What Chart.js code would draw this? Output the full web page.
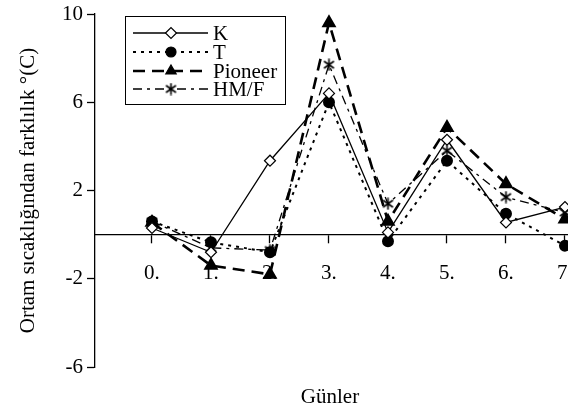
<!DOCTYPE html>
<html>
<head>
<meta charset="utf-8">
<script src="https://cdn.jsdelivr.net/npm/chart.js@4.4.0/dist/chart.umd.min.js"></script>
<style>
  html, body { margin: 0; padding: 0; background: #fff; overflow: hidden; }
  #wrap { width: 568px; height: 411px; overflow: hidden; }
</style>
</head>
<body>
<div id="wrap"><canvas id="tempChart" width="568" height="411"></canvas></div>
<script>
// days (x positions) and their labels
const days = [0, 1, 2, 3, 4, 5, 6, 7];
const dayLabels = ['0.', '1.', '2.', '3.', '4.', '5.', '6.', '7.'];
const yTicks = [-6, -2, 2, 6, 10];

// difference from ambient temperature
const kVals       = [0.3, -0.8, 3.35, 6.4, 0.1, 4.3, 0.55, 1.25];
const tVals       = [0.6, -0.35, -0.8, 6.0, -0.3, 3.35, 0.95, -0.5];
const pioneerVals = [0.55, -1.4, -1.8, 9.6, 0.6, 4.85, 2.3, 0.7];
const hmfVals     = [0.6, -0.6, -0.7, 7.7, 1.4, 3.8, 1.7, 1.0];

const FONT = 'Liberation Serif, Times New Roman, serif';

// six-armed asterisk marker
function makeAsterisk() {
    const c = document.createElement('canvas');
    c.width = 13; c.height = 13;
    const g = c.getContext('2d');
    g.strokeStyle = '#000';
    g.lineWidth = 1.6;
    g.beginPath();
    g.moveTo(6.5, 0.5); g.lineTo(6.5, 12.5);
    g.moveTo(1.5, 3); g.lineTo(11.5, 10);
    g.moveTo(11.5, 3); g.lineTo(1.5, 10);
    g.stroke();
    return c;
}
const asterisk = makeAsterisk();

function toPoints(vals) {
    return days.map((d, i) => ({ x: d, y: vals[i] }));
}

// box legend drawn like the original (line + marker + name), plus x title
const boxLegend = {
    id: 'boxLegend',
    afterDraw(chart) {
        const ctx = chart.ctx;
        ctx.save();
        ctx.strokeStyle = '#000';
        ctx.lineWidth = 1;
        ctx.strokeRect(125.5, 16.5, 160, 88);
        const rowY = [33, 52, 71, 89];
        chart.data.datasets.forEach((ds, i) => {
            const y = rowY[i];
            ctx.save();
            ctx.strokeStyle = '#000';
            ctx.lineWidth = ds.borderWidth;
            ctx.setLineDash(ds.borderDash || []);
            ctx.beginPath();
            ctx.moveTo(133, y);
            ctx.lineTo(208, y);
            ctx.stroke();
            ctx.restore();
            ctx.fillStyle = ds.pointBackgroundColor;
            ctx.strokeStyle = '#000';
            ctx.lineWidth = 1.2;
            Chart.helpers.drawPoint(ctx, {
                pointStyle: ds.pointStyle,
                radius: ds.pointRadius,
                rotation: 0,
                borderWidth: 1.2
            }, 171, y);
            ctx.fillStyle = '#000';
            ctx.font = '21px ' + FONT;
            ctx.textBaseline = 'middle';
            ctx.textAlign = 'left';
            ctx.fillText(ds.label, 213, y + 1);
        });
        ctx.font = '21px ' + FONT;
        ctx.textAlign = 'center';
        ctx.textBaseline = 'middle';
        ctx.fillText('Günler', 330, 397);
        ctx.restore();
    }
};

Chart.defaults.font.family = FONT;
Chart.defaults.color = '#000';

const ctx = document.getElementById('tempChart').getContext('2d');
const tempChart = new Chart(ctx, {
    type: 'line',
    data: {
        datasets: [
            {
                label: 'K',
                data: toPoints(kVals),
                borderColor: '#000',
                borderWidth: 1.3,
                pointStyle: 'rectRot',
                pointRadius: 5.5,
                pointBackgroundColor: '#fff',
                pointBorderColor: '#000',
                pointBorderWidth: 1.2
            },
            {
                label: 'T',
                data: toPoints(tVals),
                borderColor: '#000',
                borderWidth: 2,
                borderDash: [3, 5],
                pointStyle: 'circle',
                pointRadius: 5,
                pointBackgroundColor: '#000',
                pointBorderColor: '#000'
            },
            {
                label: 'Pioneer',
                data: toPoints(pioneerVals),
                borderColor: '#000',
                borderWidth: 2.6,
                borderDash: [12, 7],
                pointStyle: 'triangle',
                pointRadius: 6,
                pointBackgroundColor: '#000',
                pointBorderColor: '#000'
            },
            {
                label: 'HM/F',
                data: toPoints(hmfVals),
                borderColor: '#000',
                borderWidth: 1.3,
                borderDash: [9, 5, 3, 5],
                pointStyle: asterisk,
                pointRadius: 6,
                pointBackgroundColor: '#000',
                pointBorderColor: '#000'
            }
        ]
    },
    options: {
        responsive: false,
        animation: false,
        events: [],
        layout: {
            autoPadding: false,
            padding: { top: 14, right: 0, left: 0, bottom: 44 }
        },
        elements: { line: { tension: 0 } },
        scales: {
            x: {
                type: 'linear',
                min: -0.966,
                max: 7.051,
                position: { y: 0 },
                afterBuildTicks: (scale) => {
                    scale.ticks = days.map(d => ({ value: d }));
                },
                afterFit: (scale) => {
                    scale.paddingLeft = 0;
                    scale.paddingRight = 0;
                },
                ticks: {
                    autoSkip: false,
                    maxRotation: 0,
                    padding: 18,
                    font: { size: 21 },
                    callback: (v) => dayLabels[days.indexOf(v)] || ''
                },
                grid: {
                    drawOnChartArea: false,
                    tickLength: 8,
                    tickColor: '#000',
                    tickWidth: 1.3
                },
                border: { color: '#000', width: 1.3 }
            },
            y: {
                min: -6,
                max: 10,
                afterBuildTicks: (scale) => {
                    scale.ticks = yTicks.map(v => ({ value: v }));
                },
                afterFit: (scale) => {
                    scale.width = 95;
                    scale.paddingTop = 0;
                    scale.paddingBottom = 0;
                },
                ticks: {
                    padding: 4,
                    font: { size: 21 }
                },
                grid: {
                    drawOnChartArea: false,
                    tickLength: 8,
                    tickColor: '#000',
                    tickWidth: 1.3
                },
                border: { color: '#000', width: 1.3 },
                title: {
                    display: true,
                    text: 'Ortam sıcaklığından farklılık °(C)',
                    font: { size: 21 },
                    padding: { top: 16, bottom: 0 }
                }
            }
        },
        plugins: {
            legend: { display: false },
            tooltip: { enabled: false }
        }
    },
    plugins: [boxLegend]
});
</script>
</body>
</html>
